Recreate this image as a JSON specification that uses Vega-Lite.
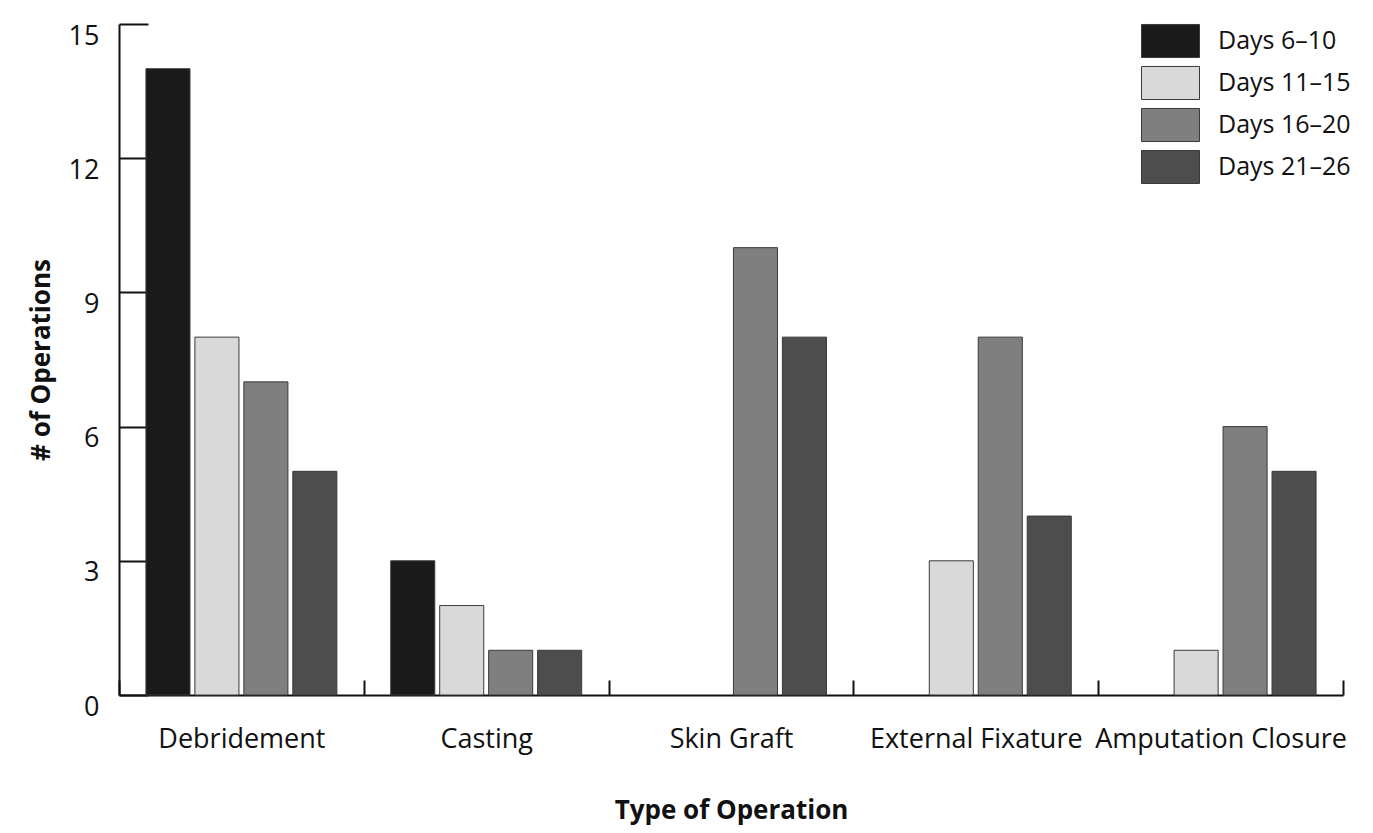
{
  "$schema": "https://vega.github.io/schema/vega-lite/v6.json",
  "width": 1224,
  "height": 671,
  "autosize": {"type": "none"},
  "padding": {"left": 119, "top": 24, "right": 30, "bottom": 138},
  "background": "white",
  "data": {"values": [
    {"op": "Debridement", "period": "Days 6–10", "n": 14},
    {"op": "Debridement", "period": "Days 11–15", "n": 8},
    {"op": "Debridement", "period": "Days 16–20", "n": 7},
    {"op": "Debridement", "period": "Days 21–26", "n": 5},
    {"op": "Casting", "period": "Days 6–10", "n": 3},
    {"op": "Casting", "period": "Days 11–15", "n": 2},
    {"op": "Casting", "period": "Days 16–20", "n": 1},
    {"op": "Casting", "period": "Days 21–26", "n": 1},
    {"op": "Skin Graft", "period": "Days 16–20", "n": 10},
    {"op": "Skin Graft", "period": "Days 21–26", "n": 8},
    {"op": "External Fixature", "period": "Days 11–15", "n": 3},
    {"op": "External Fixature", "period": "Days 16–20", "n": 8},
    {"op": "External Fixature", "period": "Days 21–26", "n": 4},
    {"op": "Amputation Closure", "period": "Days 11–15", "n": 1},
    {"op": "Amputation Closure", "period": "Days 16–20", "n": 6},
    {"op": "Amputation Closure", "period": "Days 21–26", "n": 5}
  ]},
  "mark": {"type": "bar", "stroke": "#3a3a3a", "strokeWidth": 1},
  "encoding": {
    "x": {
      "field": "op", "type": "nominal", "sort": null,
      "scale": {"paddingInner": 0, "paddingOuter": 0},
      "axis": {
        "title": "Type of Operation", "labelAngle": 0, "tickBand": "extent", "labelLimit": 0,
        "tickSize": -15, "labelPadding": 46, "titlePadding": 45,
        "domainColor": "#111", "tickColor": "#111", "domainWidth": 2, "tickWidth": 2
      }
    },
    "xOffset": {
      "field": "period", "type": "nominal",
      "scale": {"domain": ["Days 6–10", "Days 11–15", "Days 16–20", "Days 21–26"], "paddingInner": 0.1, "paddingOuter": 0.55}
    },
    "y": {
      "field": "n", "type": "quantitative",
      "scale": {"domain": [0, 15], "nice": false},
      "axis": {
        "title": "# of Operations", "values": [0, 3, 6, 9, 12, 15],
        "tickSize": -29, "labelPadding": 49, "labelBaseline": "middle", "labelOffset": 12,
        "grid": false, "titlePadding": 14,
        "domainColor": "#111", "tickColor": "#111", "domainWidth": 2, "tickWidth": 2
      }
    },
    "color": {
      "field": "period", "type": "nominal",
      "scale": {"domain": ["Days 6–10", "Days 11–15", "Days 16–20", "Days 21–26"], "range": ["#1a1a1a", "#d9d9d9", "#7f7f7f", "#4d4d4d"]},
      "legend": {
        "title": null, "orient": "none", "legendX": 1022, "legendY": -4,
        "symbolType": "M-1,-0.57H1V0.57H-1Z", "symbolSize": 3364,
        "symbolStrokeColor": "#3a3a3a", "symbolStrokeWidth": 1, "symbolOpacity": 1,
        "clipHeight": 42, "rowPadding": 0, "labelOffset": 18, "labelFontSize": 25, "labelFont": "Open Sans", "labelColor": "#111"
      }
    }
  },
  "config": {
    "view": {"stroke": null},
    "axis": {
      "labelFont": "Open Sans", "labelFontSize": 27, "labelColor": "#111",
      "titleFont": "Open Sans", "titleFontSize": 26, "titleFontWeight": "bold", "titleColor": "#111"
    }
  }
}
